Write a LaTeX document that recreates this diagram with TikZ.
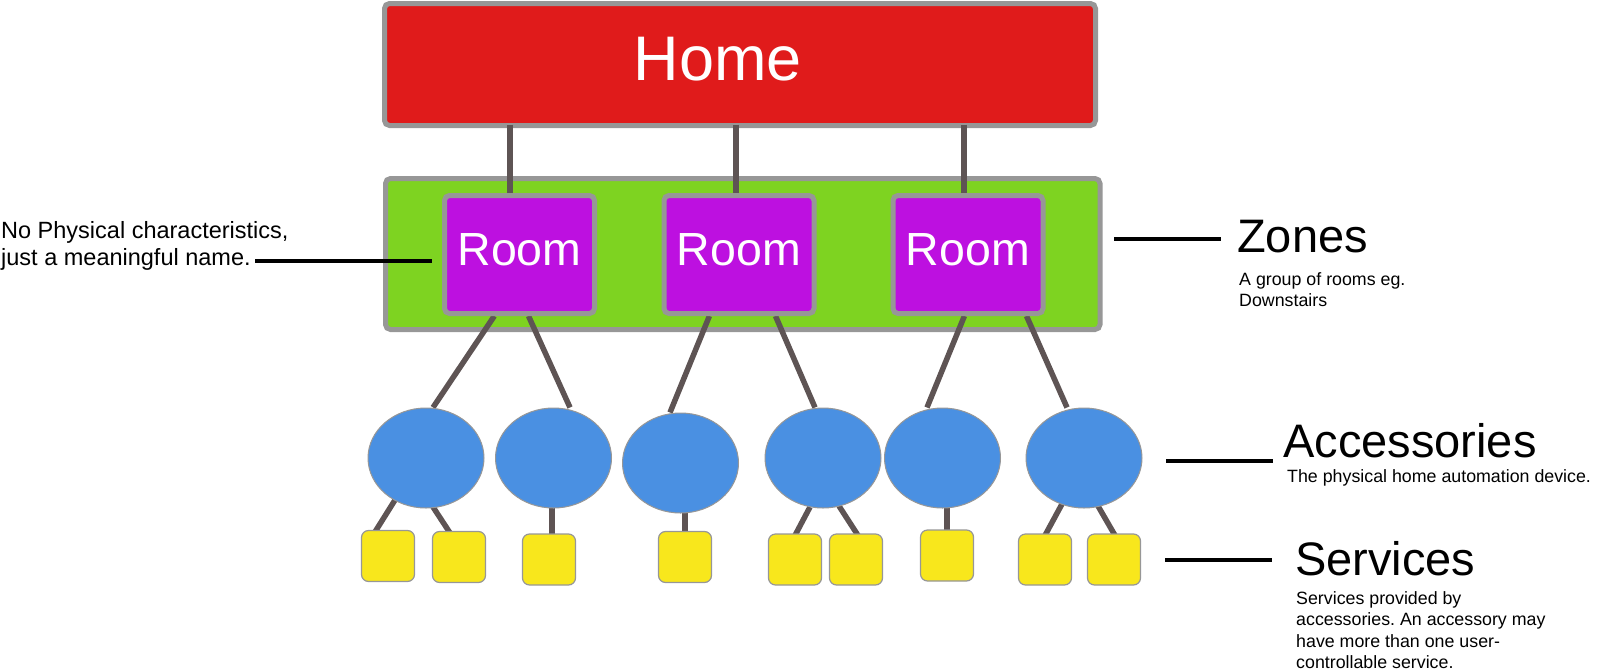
\documentclass[tikz,border=0pt]{standalone}
\usepackage{fontspec}
\setmainfont{Liberation Sans}
\usetikzlibrary{shapes.geometric,calc}
\pgfdeclarelayer{back}
\pgfdeclarelayer{mid}
\pgfsetlayers{back,mid,main}
\definecolor{homered}{HTML}{E01B1B}
\definecolor{bordergray}{HTML}{979797}
\definecolor{zonegreen}{HTML}{7ED321}
\definecolor{roompurple}{HTML}{BD10E0}
\definecolor{accblue}{HTML}{4A90E2}
\definecolor{svcyellow}{HTML}{F8E71C}
\definecolor{linkgray}{HTML}{5E5454}
\frenchspacing
\begin{document}
\begin{tikzpicture}[x=1pt,y=-1pt,
  box/.style={draw=bordergray, line width=5pt, rounded corners=5pt, inner sep=0pt},
  homebox/.style={box, fill=homered, minimum width=711pt, minimum height=122pt},
  zonebox/.style={box, fill=zonegreen, minimum width=714.5pt, minimum height=151pt},
  roombox/.style={box, fill=roompurple, minimum width=150pt, minimum height=118pt, text=white, font=\fontsize{46.5}{46.5}\selectfont, text depth=9pt},
  acc/.style={ellipse, draw=bordergray, line width=1pt, fill=accblue, minimum width=116pt, minimum height=100pt, inner sep=0pt},
  svc/.style={rectangle, rounded corners=7pt, draw=bordergray, line width=1.2pt, fill=svcyellow, minimum width=53pt, minimum height=51pt, inner sep=0pt},
  link/.style={draw=linkgray, line width=5.5pt},
  callout/.style={draw=black, line width=4pt},
  heading/.style={anchor=base west, inner sep=0pt, font=\fontsize{47}{47}\selectfont},
  desc/.style={anchor=base west, inner sep=0pt, font=\fontsize{17.8}{17.8}\selectfont},
  note/.style={anchor=base west, inner sep=0pt, font=\fontsize{23.5}{23.5}\selectfont}
]
\useasboundingbox (0,0) rectangle (1612,672);

\begin{pgfonlayer}{back}
\node[zonebox] (zone) at (742.75,254) {};
\node[homebox] (home) at (740,64.5) {};
\end{pgfonlayer}
\node[anchor=base, inner sep=0pt, text=white, font=\fontsize{63}{63}\selectfont] (homelabel) at (718,80) {Home};

% rooms
\node[roombox] (room1) at (519.5,254.5) {Room};
\node[roombox] (room2) at (739,254.5) {Room};
\node[roombox] (room3) at (968,254.5) {Room};

% accessories
\node[acc] (acc1) at (426,458) {};
\node[acc] (acc2) at (553.5,458) {};
\node[acc] (acc3) at (680.5,463) {};
\node[acc] (acc4) at (823,458) {};
\node[acc] (acc5) at (942.5,458) {};
\node[acc] (acc6) at (1084,458) {};

% services
\node[svc] (svc1) at (388,556) {};
\node[svc] (svc2) at (459,557) {};
\node[svc] (svc3) at (549,559.5) {};
\node[svc] (svc4) at (685,557) {};
\node[svc] (svc5) at (795,559.5) {};
\node[svc] (svc6) at (856,559.5) {};
\node[svc] (svc7) at (947,555.5) {};
\node[svc] (svc8) at (1045,559.5) {};
\node[svc] (svc9) at (1114,559.5) {};

\begin{pgfonlayer}{mid}
% home -> rooms
\draw[link] ($(room1.north |- home.south)+(-9.5,-3.5)$) -- ($(room1.north)+(-9.5,5)$);
\draw[link] ($(room2.north |- home.south)+(-3,-3.5)$) -- ($(room2.north)+(-3,5)$);
\draw[link] ($(room3.north |- home.south)+(-4,-3.5)$) -- ($(room3.north)+(-4,5)$);
% rooms -> accessories
\draw[link] ($(room1.south)+(-25.2,0)$) -- ($(acc1.north)+(7,0)$);
\draw[link] ($(room1.south)+(9,0)$) -- ($(acc2.north)+(16.5,0)$);
\draw[link] ($(room2.south)+(-29.6,0)$) -- ($(acc3.north)+(-10.5,0)$);
\draw[link] ($(room2.south)+(36.5,0)$) -- ($(acc4.north)+(-8,0)$);
\draw[link] ($(room3.south)+(-3.6,0)$) -- ($(acc5.north)+(-15.5,0)$);
\draw[link] ($(room3.south)+(58.5,0)$) -- ($(acc6.north)+(-17,0)$);
% accessories -> services
\draw[link] ($(acc1.center)+(-31,42)$) -- ($(svc1.north)+(-13,2)$);
\draw[link] ($(acc1.center)+(7,49)$) -- ($(svc2.north)+(-9,2)$);
\draw[link] ($(acc2.center)+(-1.5,48)$) -- ($(svc3.north)+(3,2)$);
\draw[link] ($(acc3.center)+(4.5,48)$) -- ($(svc4.north)+(0,2)$);
\draw[link] ($(acc4.center)+(-13,49)$) -- ($(svc5.north)+(0,2)$);
\draw[link] ($(acc4.center)+(16,48)$) -- ($(svc6.north)+(2,2)$);
\draw[link] ($(acc5.center)+(4.5,48)$) -- ($(svc7.north)+(0,2)$);
\draw[link] ($(acc6.center)+(-22,46)$) -- ($(svc8.north)+(0,2)$);
\draw[link] ($(acc6.center)+(14,48)$) -- ($(svc9.north)+(1,2)$);
\end{pgfonlayer}

% left note
\node[note] (note1) at (1,238) {No Physical characteristics,};
\node[note] (note2) at (1,265) {just a meaningful name.};
\coordinate (nl1) at (255,261);
\coordinate (nl2) at (432,261);
\draw[callout] (nl1) -- (nl2);

% zones
\coordinate (zl1) at (1114,239);
\coordinate (zl2) at (1221,239);
\draw[callout] (zl1) -- (zl2);
\node[heading] (zonesh) at (1237,252) {Zones};
\node[desc] (zonesd1) at (1239,285) {A group of rooms eg.};
\node[desc] (zonesd2) at (1239,306) {Downstairs};

% accessories
\coordinate (al1) at (1166,461);
\coordinate (al2) at (1273,461);
\draw[callout] (al1) -- (al2);
\node[heading] (acch) at (1283,457) {Accessories};
\node[desc] (accd) at (1287,482) {The physical home automation device.};

% services
\coordinate (sl1) at (1165,560);
\coordinate (sl2) at (1272,560);
\draw[callout] (sl1) -- (sl2);
\node[heading] (svch) at (1295,575) {Services};
\node[desc] (svcd1) at (1296,604) {Services provided by};
\node[desc] (svcd2) at (1296,625.5) {accessories. An accessory may};
\node[desc] (svcd3) at (1296,647) {have more than one user-};
\node[desc] (svcd4) at (1296,668.5) {controllable service.};
\end{tikzpicture}
\end{document}
